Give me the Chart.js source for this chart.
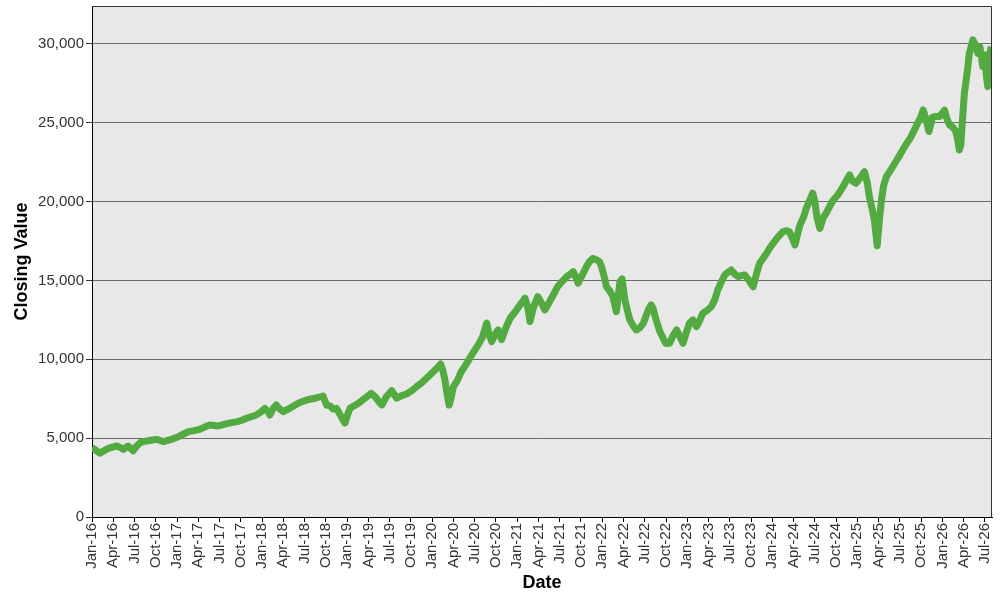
<!DOCTYPE html>
<html>
<head>
<meta charset="utf-8">
<script src="https://cdn.jsdelivr.net/npm/chart.js@4/dist/chart.umd.min.js"></script>
<style>
  html, body { margin: 0; padding: 0; background: #ffffff; }
  #wrap { width: 1000px; height: 600px; }
</style>
</head>
<body>
<div id="wrap"><canvas id="c" width="1000" height="600"></canvas></div>
<script>
// Months elapsed since Jan 2016 (0 = start of Jan-16)
const monthIndex = [
  0,0.5,1.1,1.7,2.3,3.0,3.5,4.0,4.4,5.1,5.8,6.3,6.8,7.3,7.9,8.5,9.1,9.6,10.1,10.6,11.2,11.8,
  12.4,13.0,13.6,14.4,15.2,15.9,16.6,17.2,17.8,18.5,19.2,19.9,20.6,21.2,21.8,22.5,23.2,23.8,
  24.4,24.8,25.1,25.6,26.0,26.5,27.0,27.5,27.9,28.5,29.1,29.7,30.3,30.9,31.5,32.0,32.4,32.6,
  33.1,33.6,34.0,34.5,35.0,35.4,35.7,36.0,36.4,37.0,37.6,38.0,38.5,39.0,39.4,40.0,40.5,40.9,
  41.5,42.3,42.6,43.0,43.7,44.4,45.1,45.8,46.5,47.2,47.8,48.4,48.9,49.2,49.5,49.8,50.1,50.4,
  50.7,51.0,51.6,52.1,52.7,53.3,53.9,54.5,55.1,55.5,55.7,56.0,56.4,56.9,57.3,57.8,58.4,59.0,
  59.7,60.4,61.1,61.5,61.8,62.3,62.9,63.4,63.9,64.5,65.1,65.7,66.3,67.0,67.5,67.9,68.3,68.6,
  69.3,69.8,70.2,70.7,71.2,71.6,71.9,72.3,72.6,73.1,73.5,74.0,74.5,74.8,75.2,75.6,75.9,76.4,
  76.8,77.3,77.8,78.5,78.9,79.2,79.6,80.1,80.6,81.0,81.5,82.0,82.5,83.0,83.4,83.8,84.3,84.8,
  85.3,85.8,86.2,86.8,87.4,87.9,88.3,88.8,89.3,89.7,90.2,90.7,91.2,91.6,92.1,92.7,93.3,93.7,
  94.2,94.7,95.2,95.7,96.3,96.9,97.5,98.0,98.4,98.9,99.2,99.6,99.9,100.4,100.8,101.3,101.7,
  102.0,102.3,102.7,103.2,103.6,104.1,104.6,105.2,105.7,106.3,106.9,107.3,107.8,108.4,109.0,
  109.4,109.7,110.1,110.4,110.8,111.1,111.4,111.7,112.1,112.7,113.3,113.8,114.4,115.0,115.6,
  116.0,116.5,116.9,117.3,117.7,118.1,118.6,119.1,119.6,120.3,120.6,121.0,121.5,121.9,122.2,
  122.4,122.6,122.8,123.1,123.3,123.6,123.8,124.1,124.3,124.6,124.8,125.0,125.3,125.7,126.0,
  126.2,126.4,126.6,126.9
];
const closingValue = [
  4400,4250,4050,4200,4350,4450,4500,4400,4290,4500,4200,4500,4710,4780,4840,4880,4920,4850,4780,4850,4920,5020,
  5140,5280,5410,5480,5560,5700,5830,5800,5770,5860,5940,6000,6050,6150,6260,6360,6470,6650,
  6890,6700,6470,6900,7100,6850,6680,6800,6890,7050,7210,7320,7420,7480,7530,7600,7630,7670,
  7100,7050,6850,6890,6500,6150,5950,6400,6890,7050,7210,7350,7530,7700,7845,7600,7300,7100,
  7600,8010,7800,7530,7700,7800,8000,8265,8500,8795,9050,9320,9550,9700,9300,8690,7800,7100,
  7600,8265,8700,9215,9600,10065,10500,10910,11400,12000,12300,11600,11120,11600,11860,11250,12000,12600,
  13000,13450,13870,13300,12390,13300,13970,13600,13130,13600,14080,14600,14920,15240,15400,15560,15200,14820,
  15450,15900,16190,16400,16300,16200,15875,15200,14600,14300,13970,13020,14920,15100,13760,13000,12490,12100,
  11860,12000,12280,13130,13450,13200,12490,11800,11330,11000,11015,11500,11860,11400,11015,11600,12280,12500,
  12070,12500,12920,13100,13340,13800,14400,14900,15350,15500,15660,15400,15240,15300,15350,15000,14600,15300,
  16090,16400,16720,17100,17460,17800,18090,18150,18090,17600,17250,18000,18520,19000,19580,20100,20530,
  20000,19000,18300,19000,19260,19700,20100,20400,20740,21200,21690,21300,21160,21500,21900,
  21200,20310,19500,18830,17200,18800,20100,21000,21580,22000,22430,22800,23275,23700,24120,
  24500,24970,25300,25810,25200,24440,25350,25400,25390,25800,25300,24860,24700,24440,23800,
  23275,23600,24970,26870,27500,28560,29400,29900,30250,30000,29700,29400,29800,28560,29300,
  28000,27300,29200,29820
];
// Quarterly tick labels (every 3 months from Jan-16)
const tickLabels = [
  'Jan-16','Apr-16','Jul-16','Oct-16','Jan-17','Apr-17','Jul-17','Oct-17',
  'Jan-18','Apr-18','Jul-18','Oct-18','Jan-19','Apr-19','Jul-19','Oct-19',
  'Jan-20','Apr-20','Jul-20','Oct-20','Jan-21','Apr-21','Jul-21','Oct-21',
  'Jan-22','Apr-22','Jul-22','Oct-22','Jan-23','Apr-23','Jul-23','Oct-23',
  'Jan-24','Apr-24','Jul-24','Oct-24','Jan-25','Apr-25','Jul-25','Oct-25',
  'Jan-26','Apr-26','Jul-26'
];
const yTicks = [0, 5000, 10000, 15000, 20000, 25000, 30000];

const points = monthIndex.map((m, i) => ({ x: m, y: closingValue[i] }));

const plotBg = {
  id: 'plotBg',
  beforeDraw(chart) {
    const { ctx, chartArea: a } = chart;
    ctx.save();
    ctx.fillStyle = '#e8e8e8';
    ctx.fillRect(a.left, a.top, a.right - a.left, a.bottom - a.top);
    ctx.restore();
  },
  afterDraw(chart) {
    const { ctx, chartArea: a } = chart;
    ctx.save();
    ctx.strokeStyle = '#333333';
    ctx.lineWidth = 1;
    ctx.beginPath();
    ctx.moveTo(a.left, a.top + 0.5);
    ctx.lineTo(a.right - 0.5, a.top + 0.5);
    ctx.lineTo(a.right - 0.5, a.bottom);
    ctx.stroke();
    ctx.restore();
  }
};

new Chart(document.getElementById('c'), {
  type: 'line',
  data: {
    datasets: [{
      data: points,
      borderColor: '#53aa40',
      borderWidth: 7,
      pointRadius: 0,
      tension: 0,
      borderJoinStyle: 'round',
      borderCapStyle: 'butt',
      fill: false
    }]
  },
  plugins: [plotBg],
  options: {
    responsive: false,
    animation: false,
    devicePixelRatio: 1,
    layout: { padding: { left: 0, right: 8, top: 6, bottom: 0 } },
    plugins: { legend: { display: false }, tooltip: { enabled: false } },
    scales: {
      x: {
        type: 'linear',
        min: 0,
        max: 127,
        afterFit(s) { s.height = 83; s.paddingLeft = 0; s.paddingRight = 0; },
        afterBuildTicks(s) { s.ticks = tickLabels.map((_, i) => ({ value: i * 3 })); },
        ticks: {
          autoSkip: false,
          minRotation: 90,
          maxRotation: 90,
          padding: 1,
          color: '#333333',
          font: { family: 'Liberation Sans, Arial, sans-serif', size: 15 },
          callback: (v) => tickLabels[Math.round(v / 3)]
        },
        grid: { drawOnChartArea: false, drawTicks: true, tickLength: 5, color: '#000000' },
        border: { color: '#000000', width: 1 },
        title: {
          display: true,
          text: 'Date',
          color: '#000000',
          font: { family: 'Liberation Sans, Arial, sans-serif', size: 18, weight: 'bold' },
          padding: { top: 0, bottom: 6 }
        }
      },
      y: {
        min: 0,
        max: 32400,
        afterFit(s) { s.width = 92; s.paddingTop = 0; s.paddingBottom = 0; },
        afterBuildTicks(s) { s.ticks = yTicks.map(v => ({ value: v })); },
        ticks: {
          padding: 2,
          color: '#333333',
          font: { family: 'Liberation Sans, Arial, sans-serif', size: 15 },
          callback: (v) => v.toLocaleString('en-US')
        },
        grid: { color: '#6a6a6a', lineWidth: 1, drawTicks: true, tickLength: 6, tickColor: '#333333' },
        border: { color: '#000000', width: 1 },
        title: {
          display: true,
          text: 'Closing Value',
          color: '#000000',
          font: { family: 'Liberation Sans, Arial, sans-serif', size: 18, weight: 'bold' },
          padding: { top: 11, bottom: 0 }
        }
      }
    }
  }
});
</script>
</body>
</html>
